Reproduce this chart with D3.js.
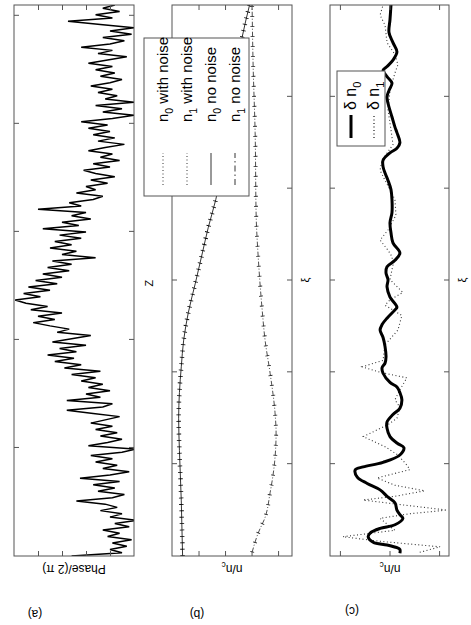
<!DOCTYPE html>
<html>
<head>
<meta charset="utf-8">
<script src="https://cdn.jsdelivr.net/npm/d3@7"></script>
<style>
  body { margin: 0; background: #fff; }
  svg { display: block; font-family: "Liberation Sans", Arial, sans-serif; }
</style>
</head>
<body>
<div id="chart"></div>
<script>
// ---------- Data ----------
// (a) phase along z, sampled every phaseZStep
const phaseZStep = 0.03;
const phase = [
  2.6, 0.5, 1.0, 0.3, 0.9, 0.1, 1.1, 0.6, 1.3, 0.2, 0.8, -0.1, 1.0, 0.5, 1.4, 0.7, 1.2, 2.4, 0.9, 0.4,
  1.5, 0.8, 1.7, 0.6, 2.25, 1.0, 0.2, 1.3, 0.7, 1.6, 0.9, 1.8, 0.5, -0.1, 1.9, 1.1, 0.5, 1.4, 0.7,
  1.6, 0.9, 1.8, 1.2, 0.6, 1.7, 2.8, 1.3, 0.9, 2.8, 1.4, 2.0, 1.0, 1.9, 1.3, 2.2, 1.6, 2.6, 1.4,
  2.9, 2.2, 3.3, 2.5, 3.6, 2.4, 3.1, 2.0, 3.4, 2.6, 1.8, 3.2, 2.7, 3.5, 4.2, 3.3, 4.0, 3.0, 4.3, 3.6, 4.5, 4.95,
  3.9, 4.6, 3.5, 4.4, 3.2, 4.1, 3.0, 3.8, 2.7, 3.6, 2.6, 3.4, 1.6, 3.0, 2.4, 3.5, 2.6, 3.3, 2.2, 3.1, 2.0, 3.8,
  2.3, 3.0, 1.8, 2.6, 2.0, 4.0, 2.2, 2.7, 1.7, 1.3, 2.4, 1.6,
  2.0, 1.1, 1.8, 0.8, 1.6, 2.1, 1.0, 1.7, 0.6, 1.4, 0.9, 1.9, 1.2, 0.4, 1.5, 0.8, 1.7, 1.0, 1.9, 1.1,
  2.2, 0.9, 0.0, 1.3, 0.5, 1.6, 0.0, 1.2,
  0.7, 1.5, 0.9, 1.8, 1.0, 0.5, 1.4, 0.8, 1.6, 0.9, 1.9, 1.1, 0.3, 1.5, 0.9, 2.2, 1.0, 0.4, 1.3, 0.1,
  1.0, 0.0, 1.4, 2.75, 0.9, 1.6, 0.6, 1.3, 0.8
];

// (b) densities
const n0Xi = [0, 0.6, 1.15, 1.5, 1.78, 2.06, 2.35, 2.65, 2.97, 3.3, 3.58, 3.88, 4.42, 4.97, 5.65, 6.0];
const n0 = [0.92, 0.93, 0.944, 0.95, 0.944, 0.93, 0.912, 0.877, 0.824, 0.771, 0.726, 0.67, 0.60, 0.54, 0.471, 0.415];
const n1Xi = [0.04, 0.25, 0.42, 0.69, 0.97, 1.34, 1.56, 1.99, 2.35, 2.68, 3.26, 3.69, 4.61, 5.33, 6.0];
const n1 = [0.396, 0.35, 0.298, 0.26, 0.23, 0.215, 0.223, 0.26, 0.298, 0.32, 0.35, 0.365, 0.373, 0.388, 0.396];

// (c) density differences
const dn0Xi = [0.03,0.07,0.09,0.12,0.15,0.21,0.25,0.30,0.34,0.41,0.45,0.50,0.58,0.64,0.72,0.79,0.86,0.94,0.97,1.02,
  1.10,1.18,1.23,1.30,1.39,1.46,1.54,1.61,1.70,1.78,1.84,1.89,1.99,2.05,2.10,2.17,2.28,2.38,2.46,2.52,
  2.59,2.68,2.71,2.82,2.93,3.01,3.08,3.15,3.22,3.30,3.41,3.52,3.63,3.74,3.88,3.99,4.09,4.17,4.24,4.31,
  4.39,4.44,4.50,4.61,4.67,4.78,4.93,5.00,5.07,5.15,5.22,5.29,5.33,5.40,5.49,5.59,5.70,5.84,6.00];
const dn0 = [-0.21,-0.21,-0.15,0.05,0.33,0.43,0.39,0.19,-0.11,-0.27,-0.21,-0.15,-0.11,0.03,0.19,0.45,0.65,0.69,0.53,0.13,
  -0.21,-0.29,-0.15,-0.01,0.05,0.05,-0.07,-0.21,-0.25,-0.21,-0.15,-0.01,0.13,0.15,0.09,0.07,0.09,0.13,0.19,0.15,
  0.05,-0.11,-0.15,-0.01,0.05,0.03,0.07,0.05,-0.11,-0.21,-0.07,-0.03,-0.01,-0.05,-0.05,-0.03,0.03,0.09,0.13,0.13,
  -0.01,-0.15,-0.21,-0.15,-0.11,-0.05,0.03,0.05,0.01,-0.05,0.05,0.13,0.05,-0.07,-0.15,-0.07,0.01,-0.01,-0.03];
const dn1Xi = [0.04,0.10,0.16,0.21,0.28,0.32,0.41,0.46,0.50,0.56,0.61,0.65,0.71,0.77,0.85,0.94,0.99,1.10,1.19,1.30,
  1.43,1.50,1.62,1.70,1.81,1.94,2.00,2.06,2.13,2.30,2.46,2.62,2.73,2.79,2.87,3.01,3.17,3.26,3.33,3.44,
  3.55,3.71,3.88,3.99,4.09,4.20,4.31,4.48,4.64,4.86,5.07,5.26,5.35,5.46,5.59,5.78,5.89,6.00];
const dn1 = [-0.61,-1.02,0.19,0.94,-0.11,-0.01,0.19,-0.41,-1.16,-0.21,0.53,-0.11,-0.71,-0.11,0.25,-0.41,-0.35,-0.17,0.09,0.53,
  0.03,-0.15,-0.21,-0.11,-0.21,-0.35,0.19,0.55,0.13,0.09,-0.17,-0.25,0.09,-0.01,-0.27,-0.01,-0.07,-0.05,0.03,0.19,
  0.03,-0.13,-0.11,-0.01,0.09,0.19,0.15,-0.07,-0.03,0.03,-0.01,-0.11,-0.17,-0.11,0.05,0.09,0.19,0.13];

// ticks
const zTicks = [1, 2, 3, 4, 5];
const xiTicks = [1, 2, 3, 4, 5];
const phaseTicks = [1, 2, 3, 4];
const nTicks = [0.2, 0.4, 0.6, 0.8];
const dnTicks = [-1, 0, 1];

// ---------- Layout (figure drawn upright, then turned a quarter) ----------
const figW = 625, figH = 471;
const left = 69, right = 620;
const frameColor = "#555";

const svg = d3.select("#chart")
  .append("svg")
    .attr("width", figH)
    .attr("height", figW);

const fig = svg.append("g")
  .attr("transform", `translate(0, ${figW}) rotate(-90)`);

const defs = svg.append("defs");

// frame, inward ticks on all four sides
const drawAxes = (g, x, y, xTicks, yTicks, top, bottom) => {
  const t = 5;
  g.append("g").attr("transform", `translate(0, ${bottom})`)
    .call(d3.axisBottom(x).tickValues(xTicks).tickSize(-t).tickFormat(""));
  g.append("g").attr("transform", `translate(0, ${top})`)
    .call(d3.axisTop(x).tickValues(xTicks).tickSize(-t).tickFormat(""));
  g.append("g").attr("transform", `translate(${left}, 0)`)
    .call(d3.axisLeft(y).tickValues(yTicks).tickSize(-t).tickFormat(""));
  g.append("g").attr("transform", `translate(${right}, 0)`)
    .call(d3.axisRight(y).tickValues(yTicks).tickSize(-t).tickFormat(""));
  g.selectAll(".domain").remove();
  g.selectAll(".tick line").attr("stroke", frameColor);
  g.append("rect")
    .attr("x", left).attr("y", top)
    .attr("width", right - left).attr("height", bottom - top)
    .attr("fill", "none").attr("stroke", frameColor);
};

const addClip = (id, top, bottom) => {
  defs.append("clipPath").attr("id", id)
    .append("rect")
      .attr("x", left).attr("y", top)
      .attr("width", right - left).attr("height", bottom - top);
};

// text with one subscript
const subText = (sel, base, sub, rest, size) => {
  sel.append("tspan").text(base);
  sel.append("tspan").attr("font-size", size * 0.7).attr("dy", size * 0.3).text(sub);
  if (rest) sel.append("tspan").attr("dy", -size * 0.3).text(rest);
};

const rotLabel = (x, y, size) => fig.append("text")
  .attr("transform", `translate(${x}, ${y}) rotate(-90)`)
  .attr("text-anchor", "middle")
  .attr("dominant-baseline", "middle")
  .attr("font-size", size)
  .attr("fill", "#000");

/*****************  (a) phase  *****************/
const aTop = 14, aBottom = 134;
const xA = d3.scaleLinear().domain([0, 5.1]).range([left, right]);
const yA = d3.scaleLinear().domain([0, 5]).range([aBottom, aTop]);
addClip("clipA", aTop, aBottom);

const gA = fig.append("g");
gA.append("path")
  .attr("clip-path", "url(#clipA)")
  .attr("d", d3.line().x((d, i) => xA(i * phaseZStep)).y(d => yA(d))(phase))
  .attr("fill", "none")
  .attr("stroke", "#000")
  .attr("stroke-width", 1.5);
drawAxes(gA, xA, yA, zTicks, phaseTicks, aTop, aBottom);

rotLabel(57, 74, 12).text("Phase/(2 \u03c0)");
rotLabel(12, 35, 12).text("(a)");
fig.append("text")
  .attr("x", 342).attr("y", 150)
  .attr("text-anchor", "middle").attr("dominant-baseline", "middle")
  .attr("font-size", 11)
  .text("Z");

/*****************  (b) densities  *****************/
const bTop = 172, bBottom = 292;
const xB = d3.scaleLinear().domain([0, 6]).range([left, right]);
const yB = d3.scaleLinear().domain([0.095, 1.0]).range([bBottom, bTop]);
addClip("clipB", bTop, bBottom);

const lineB = d3.line().x(d => xB(d[0])).y(d => yB(d[1])).curve(d3.curveMonotoneX);
const gB = fig.append("g");
const gBData = gB.append("g").attr("clip-path", "url(#clipB)");

// n0: solid with cross marks
const n0Path = lineB(d3.zip(n0Xi, n0));
gBData.append("path").attr("d", n0Path)
  .attr("fill", "none").attr("stroke", "#000").attr("stroke-width", 0.8);
gBData.append("path").attr("d", n0Path)
  .attr("fill", "none").attr("stroke", "#000").attr("stroke-width", 4.5)
  .attr("stroke-dasharray", "0.8,5.6");

// n1: dash-dot with marks
const n1Path = lineB(d3.zip(n1Xi, n1));
gBData.append("path").attr("d", n1Path)
  .attr("fill", "none").attr("stroke", "#222").attr("stroke-width", 0.8)
  .attr("stroke-dasharray", "5,2,1,2");
gBData.append("path").attr("d", n1Path)
  .attr("fill", "none").attr("stroke", "#222").attr("stroke-width", 4)
  .attr("stroke-dasharray", "0.8,9.2");

drawAxes(gB, xB, yB, xiTicks, nTicks, bTop, bBottom);

// legend (b)
const legB = fig.append("g");
legB.append("rect")
  .attr("x", 429).attr("y", 144).attr("width", 158).attr("height", 105)
  .attr("fill", "#fff").attr("stroke", frameColor);
const legBItems = [
  {sub: "0", rest: " with noise", dash: "1,2.5"},
  {sub: "1", rest: " with noise", dash: "1,2.5"},
  {sub: "0", rest: " no noise", dash: null},
  {sub: "1", rest: " no noise", dash: "6,3,1.5,3"}
];
legBItems.forEach((d, i) => {
  const base = 168 + i * 24;
  legB.append("line")
    .attr("x1", 440).attr("x2", 472)
    .attr("y1", base - 5).attr("y2", base - 5)
    .attr("stroke", "#000").attr("stroke-width", 0.8)
    .attr("stroke-dasharray", d.dash);
  const t = legB.append("text")
    .attr("x", 503).attr("y", base)
    .attr("font-size", 15);
  subText(t, "n", d.sub, d.rest, 15);
});

rotLabel(12, 197, 12).text("(b)");
subText(rotLabel(57, 232, 12), "n/n", "c", null, 12);
fig.append("text")
  .attr("x", 345).attr("y", 306)
  .attr("text-anchor", "middle").attr("dominant-baseline", "middle")
  .attr("font-size", 11)
  .text("\u03be");

/*****************  (c) differences  *****************/
const cTop = 330, cBottom = 449;
const xC = d3.scaleLinear().domain([0, 6]).range([left, right]);
const yC = d3.scaleLinear().domain([-1.2, 1.2]).range([cBottom, cTop]);
addClip("clipC", cTop, cBottom);

const gC = fig.append("g");
const gCData = gC.append("g").attr("clip-path", "url(#clipC)");
gCData.append("path")
  .attr("d", d3.line().x(d => xC(d[0])).y(d => yC(d[1]))(d3.zip(dn1Xi, dn1)))
  .attr("fill", "none").attr("stroke", "#333").attr("stroke-width", 1.1)
  .attr("stroke-dasharray", "1,2.5");
gCData.append("path")
  .attr("d", d3.line().x(d => xC(d[0])).y(d => yC(d[1])).curve(d3.curveCatmullRom)(d3.zip(dn0Xi, dn0)))
  .attr("fill", "none").attr("stroke", "#000").attr("stroke-width", 3)
  .attr("stroke-linejoin", "round");
drawAxes(gC, xC, yC, xiTicks, dnTicks, cTop, cBottom);

// legend (c)
const legC = fig.append("g");
legC.append("rect")
  .attr("x", 479).attr("y", 337).attr("width", 75).attr("height", 48)
  .attr("fill", "#fff").attr("stroke", frameColor);
const legCItems = [
  {sub: "0", width: 3, dash: null},
  {sub: "1", width: 1.1, dash: "1,2.5"}
];
legCItems.forEach((d, i) => {
  const base = 356 + i * 23;
  legC.append("line")
    .attr("x1", 487).attr("x2", 510)
    .attr("y1", base - 5).attr("y2", base - 5)
    .attr("stroke", "#000").attr("stroke-width", d.width)
    .attr("stroke-dasharray", d.dash);
  const t = legC.append("text")
    .attr("x", 515).attr("y", base)
    .attr("font-size", 16);
  subText(t, "\u03b4 n", d.sub, null, 16);
});

rotLabel(15, 352, 12).text("(c)");
subText(rotLabel(57, 390, 12), "n/n", "c", null, 12);
fig.append("text")
  .attr("x", 345).attr("y", 463)
  .attr("text-anchor", "middle").attr("dominant-baseline", "middle")
  .attr("font-size", 11)
  .text("\u03be");
</script>
</body>
</html>
